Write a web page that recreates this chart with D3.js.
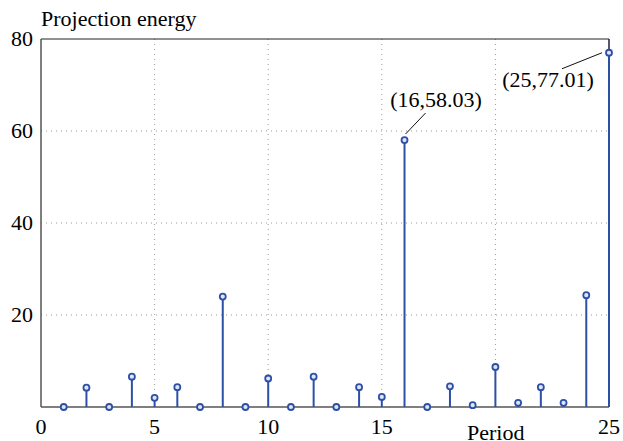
<!DOCTYPE html>
<html>
<head>
<meta charset="utf-8">
<script src="https://cdn.jsdelivr.net/npm/d3@7"></script>
<style>
  body { margin: 0; background: #fff; }
  svg { display: block; font-family: "Liberation Serif", "Times New Roman", serif; }
</style>
</head>
<body>
<svg width="623" height="441"></svg>
<script>
// period values and their projection energy
var periods = [1,2,3,4,5,6,7,8,9,10,11,12,13,14,15,16,17,18,19,20,21,22,23,24,25];
var energy  = [0,4.2,0,6.6,2.0,4.3,0,24.0,0,6.2,0,6.6,0,4.3,2.2,58.03,0,4.5,0.4,8.7,0.9,4.3,0.9,24.3,77.01];
var xTicks = [0,5,10,15,25];
var yTicks = [20,40,60,80];
var notes = [{p:16, e:58.03, label:"(16,58.03)"}, {p:25, e:77.01, label:"(25,77.01)"}];

var svg = d3.select("svg");
var mLeft = 41, mRight = 609, mTop = 39, mBottom = 407;
var blue = "#2d4fa6";

var x = d3.scaleLinear().domain([0,25]).range([mLeft, mRight]);
var y = d3.scaleLinear().domain([0,80]).range([mBottom, mTop]);

// dotted grid
svg.append("g").selectAll("line")
    .data([5,10,15,20])
    .enter().append("line")
    .attr("x1", function(d) { return x(d); })
    .attr("x2", function(d) { return x(d); })
    .attr("y1", mTop).attr("y2", mBottom)
    .attr("stroke", "#999").attr("stroke-width", 1)
    .attr("stroke-dasharray", "1,4");

svg.append("g").selectAll("line")
    .data([20,40,60])
    .enter().append("line")
    .attr("y1", function(d) { return y(d); })
    .attr("y2", function(d) { return y(d); })
    .attr("x1", mLeft).attr("x2", mRight)
    .attr("stroke", "#999").attr("stroke-width", 1)
    .attr("stroke-dasharray", "1,4");

// box
svg.append("line").attr("x1", mLeft).attr("x2", mRight).attr("y1", mTop).attr("y2", mTop)
    .attr("stroke", "#222").attr("stroke-width", 1.2);
svg.append("line").attr("x1", mRight).attr("x2", mRight).attr("y1", mTop).attr("y2", mBottom)
    .attr("stroke", "#1a2040").attr("stroke-width", 1.5);
svg.append("line").attr("x1", mLeft).attr("x2", mLeft).attr("y1", mTop).attr("y2", mBottom)
    .attr("stroke", "#555").attr("stroke-width", 1.5);
svg.append("line").attr("x1", mLeft).attr("x2", mRight).attr("y1", mBottom).attr("y2", mBottom)
    .attr("stroke", "#555").attr("stroke-width", 1.5);

// tick labels
svg.append("g").selectAll("text")
    .data(yTicks)
    .enter().append("text")
    .attr("x", mLeft - 8)
    .attr("y", function(d) { return y(d) + 7; })
    .attr("text-anchor", "end")
    .attr("font-size", 22)
    .text(function(d) { return d; });

svg.append("g").selectAll("text")
    .data(xTicks)
    .enter().append("text")
    .attr("x", function(d) { return x(d); })
    .attr("y", 434)
    .attr("text-anchor", "middle")
    .attr("font-size", 22)
    .text(function(d) { return d; });

svg.append("text").attr("x", 41).attr("y", 26).attr("font-size", 22).text("Projection energy");
svg.append("text").attr("x", 467).attr("y", 440).attr("font-size", 22).text("Period");

// stems
svg.append("g").selectAll("line")
    .data(periods)
    .enter().append("line")
    .attr("x1", function(d) { return x(d); })
    .attr("x2", function(d) { return x(d); })
    .attr("y1", y(0))
    .attr("y2", function(d, i) { return y(energy[i]); })
    .attr("stroke", blue).attr("stroke-width", 2);

svg.append("g").selectAll("circle")
    .data(periods)
    .enter().append("circle")
    .attr("cx", function(d) { return x(d); })
    .attr("cy", function(d, i) { return y(energy[i]); })
    .attr("r", 3)
    .attr("fill", "#dfe5f5")
    .attr("stroke", blue).attr("stroke-width", 1.8);

// annotations
var n0 = notes[0], n1 = notes[1];
svg.append("line").attr("x1", x(n0.p) + 1).attr("y1", y(n0.e) - 6)
    .attr("x2", x(n0.p) + 21).attr("y2", y(n0.e) - 27)
    .attr("stroke", "#111").attr("stroke-width", 1);
svg.append("text").attr("x", 436).attr("y", 107)
    .attr("text-anchor", "middle").attr("font-size", 22).text(n0.label);

svg.append("line").attr("x1", x(n1.p) - 7).attr("y1", y(n1.e) + 0)
    .attr("x2", x(n1.p) - 47).attr("y2", y(n1.e) + 16)
    .attr("stroke", "#111").attr("stroke-width", 1);
svg.append("text").attr("x", 548).attr("y", 87)
    .attr("text-anchor", "middle").attr("font-size", 22).text(n1.label);
</script>
</body>
</html>
